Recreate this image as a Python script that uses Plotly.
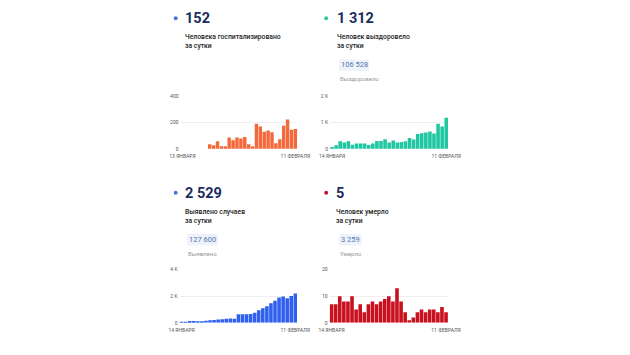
import plotly.graph_objects as go
import pandas as pd

# the page body adds an 8px margin, so the figure is shrunk and coordinates shifted
OFF = 8
W, H = 630 - OFF, 355 - OFF

# ---------------- data ----------------
hosp_dates = [d.strftime("%d.%m") for d in pd.date_range("2021-01-13", "2021-02-11")]
other_dates = [d.strftime("%d.%m") for d in pd.date_range("2021-01-14", "2021-02-11")]

hosp_values = [None] * 7 + [35, 28, 58, 20, 20, 85, 65, 85, 78, 90, 35, 20, 190, 168,
                            130, 138, 125, 43, 73, 175, 222, 145, 150]
recovered_values = [70, 135, 285, 245, 285, 155, 205, 205, 200, 150, 205, 300, 300, 360, 245,
                    320, 245, 255, 290, 410, 355, 565, 585, 620, 655, 580, 950, 845, 1175]
cases_values = [70, 80, 140, 130, 110, 120, 160, 190, 220, 250, 270, 300, 320, 300, 640,
                640, 640, 660, 760, 950, 1100, 1250, 1480, 1670, 1900, 1980, 1860, 2020, 2210]
deaths_values = [7, 7, 10, 8, 8, 10, 5, 7, 4, 7, 8, 7, 8, 9, 10, 8, 13, 8, 4, 1, 2, 4, 5, 4,
                 5, 5, 4, 6, 4]

hosp_ticks = ["13 ЯНВАРЯ", "11 ФЕВРАЛЯ"]
other_ticks = ["14 ЯНВАРЯ", "11 ФЕВРАЛЯ"]

big_numbers = ["152", "1 312", "2 529", "5"]
labels = ["Человека госпитализировано<br>за сутки", "Человек выздоровело<br>за сутки",
          "Выявлено случаев<br>за сутки", "Человек умерло<br>за сутки"]
totals = [None, "106 528", "127 600", "3 259"]
total_labels = [None, "Выздоровело", "Выявлено", "Умерло"]

y_ticks = [[0, 200, 400], [0, 1000, 2000], [0, 2000, 4000], [0, 10, 20]]
y_ticktext = [["0", "200", "400"], ["0", "1 K", "2 K"], ["0", "2 K", "4 K"], ["0", "10", "20"]]

bar_colors = ["#F4693B", "#20C7A0", "#3060EE", "#C8101F"]
dot_colors = ["#4A6EDC", "#2BC3A2", "#4A6EDC", "#C0102A"]

# ---------------- layout helpers ----------------
def px(x):
    return (x - OFF) / W


def py(y):
    return 1 - (y - OFF) / H


FONT = "Roboto"

# chart domains in page pixels: (x0, x1, ybottom, ytop)
domains = [
    (176, 297.5, 148.3, 94.3),
    (331.5, 454.5, 148.3, 94.3),
    (175, 297.5, 325.3, 271.3),
    (331, 454.3, 325.3, 271.3),
]
series = [
    (hosp_dates, hosp_values, hosp_ticks),
    (other_dates, recovered_values, other_ticks),
    (other_dates, cases_values, other_ticks),
    (other_dates, deaths_values, other_ticks),
]

fig = go.Figure()
layout = dict(
    width=W, height=H,
    margin=dict(l=0, r=0, t=0, b=0),
    paper_bgcolor="white", plot_bgcolor="white",
    showlegend=False, bargap=0.12,
    font=dict(family=FONT),
)

for i, ((x0, x1, yb, yt), (cats, vals, ticks)) in enumerate(zip(domains, series)):
    n = i + 1
    xa = "x" if n == 1 else f"x{n}"
    ya = "y" if n == 1 else f"y{n}"
    fig.add_trace(go.Bar(x=cats, y=vals, marker=dict(color=bar_colors[i], line=dict(width=0)),
                         xaxis=xa, yaxis=ya, hoverinfo="skip"))
    xkey = "xaxis" if n == 1 else f"xaxis{n}"
    ykey = "yaxis" if n == 1 else f"yaxis{n}"
    layout[xkey] = dict(
        domain=[px(x0), px(x1)], anchor=ya, type="category",
        categoryorder="array", categoryarray=cats,
        range=[-0.5, len(cats) - 0.5],
        tickmode="array", tickvals=[cats[0], cats[-1]], ticktext=ticks,
        tickfont=dict(size=5, color="#555555", family=FONT),
        ticklabelstandoff=3,
        showgrid=False, showline=False, zeroline=False, ticks="", fixedrange=True,
    )
    layout[ykey] = dict(
        domain=[py(yb), py(yt)], anchor=xa,
        range=[0, y_ticks[i][-1]],
        tickmode="array", tickvals=y_ticks[i], ticktext=y_ticktext[i],
        tickfont=dict(size=5, color="#555555", family=FONT),
        ticklabelstandoff=1,
        showgrid=True, gridcolor="#EEEEEE", gridwidth=1,
        showline=False, zeroline=False, ticks="", fixedrange=True,
    )

fig.update_layout(**layout)

# ---------------- header texts ----------------
# (dot x, text x, row y offset, box x0, box x1)
headers = [
    (171, 180, 0, None, None),
    (327.5, 337.5, 0, 341, 372),
    (171, 180, 177.6, 183, 215),
    (327.5, 337, 177.6, 341, 364),
]
shapes = []
annotations = []
for i, (dx, tx, off, bx0, bx1) in enumerate(headers):
    cy = 15.3 + off
    r = 2.0
    shapes.append(dict(type="circle", xref="paper", yref="paper",
                       x0=px(dx - r), x1=px(dx + r), y0=py(cy + r), y1=py(cy - r),
                       fillcolor=dot_colors[i], line=dict(width=0)))
    annotations.append(dict(xref="paper", yref="paper", x=px(tx - 1), y=py(15.8 + off),
                            xanchor="left", yanchor="middle", showarrow=False,
                            text=f"<b>{big_numbers[i]}</b>",
                            font=dict(size=14.5, color="#1B2D5E", family=FONT)))
    annotations.append(dict(xref="paper", yref="paper", x=px(tx - 1), y=py(39.5 + off),
                            xanchor="left", yanchor="middle", showarrow=False, align="left",
                            text=labels[i],
                            font=dict(size=6.8, color="#222222", family=FONT, weight=500)))
    if totals[i] is not None:
        shapes.append(dict(type="rect", xref="paper", yref="paper",
                           x0=px(bx0), x1=px(bx1), y0=py(69 + off), y1=py(57.3 + off),
                           fillcolor="#EEF2FA", line=dict(width=0)))
        annotations.append(dict(xref="paper", yref="paper", x=px((bx0 + bx1) / 2), y=py(62.8 + off),
                                xanchor="center", yanchor="middle", showarrow=False,
                                text=totals[i],
                                font=dict(size=7.5, color="#5575B0", family=FONT)))
        annotations.append(dict(xref="paper", yref="paper", x=px(bx0 - 1), y=py(77 + off),
                                xanchor="left", yanchor="middle", showarrow=False,
                                text=total_labels[i],
                                font=dict(size=6, color="#999999", family=FONT)))

fig.update_layout(shapes=shapes, annotations=annotations)
fig.write_html("out.html", config={"displayModeBar": False})
